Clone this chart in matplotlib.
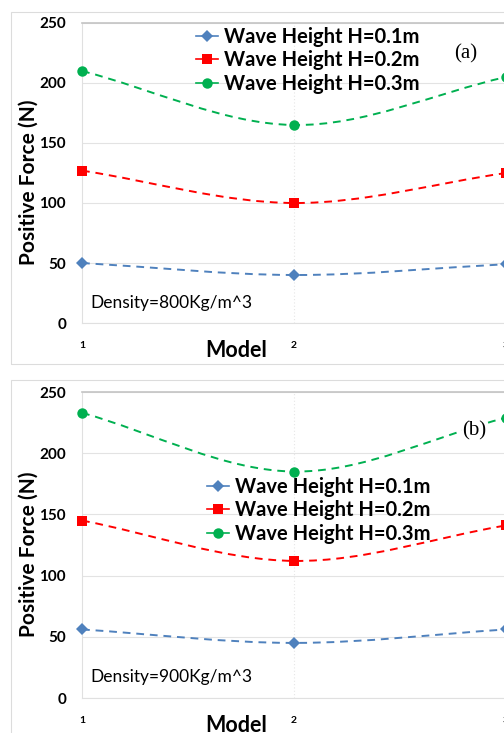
import matplotlib
matplotlib.use("Agg")
import matplotlib.pyplot as plt
from matplotlib.path import Path
from matplotlib.patches import PathPatch, Rectangle
from matplotlib.lines import Line2D

# ─────────────────────────────────────────────
# DATA
# ─────────────────────────────────────────────
models = [1, 2, 3]
series_labels = ["Wave Height H=0.1m", "Wave Height H=0.2m", "Wave Height H=0.3m"]

force_800 = {
    "H=0.1m": [50, 40, 49],
    "H=0.2m": [127, 100, 125],
    "H=0.3m": [210, 165, 205],
}
force_900 = {
    "H=0.1m": [56, 45, 56],
    "H=0.2m": [145, 112, 141],
    "H=0.3m": [233, 185, 229],
}
y_ticks = [0, 50, 100, 150, 200, 250]

colors = ["#4F81BD", "#FF0000", "#00B050"]
markers = ["D", "s", "o"]
msizes = [6.5, 7.5, 7.5]

W, H = 504, 733
plt.rcParams["font.family"] = ["Lato", "DejaVu Sans"]


def fx(px):
    return px / W


def fy(py):
    return 1 - py / H


# smooth line like Excel's "smoothed line" option
def smooth_path(xs, ys):
    n = len(xs)
    mx, my = [], []
    for i in range(n):
        if i == 0:
            mx.append(xs[1] - xs[0]); my.append(ys[1] - ys[0])
        elif i == n - 1:
            mx.append(xs[-1] - xs[-2]); my.append(ys[-1] - ys[-2])
        else:
            mx.append((xs[i + 1] - xs[i - 1]) / 2); my.append((ys[i + 1] - ys[i - 1]) / 2)
    verts = [(xs[0], ys[0])]
    codes = [Path.MOVETO]
    for i in range(n - 1):
        verts += [(xs[i] + mx[i] / 3, ys[i] + my[i] / 3),
                  (xs[i + 1] - mx[i + 1] / 3, ys[i + 1] - my[i + 1] / 3),
                  (xs[i + 1], ys[i + 1])]
        codes += [Path.CURVE4] * 3
    return Path(verts, codes)


def draw_panel(fig, data, top_px, bot_px, density_txt, tag, tag_xy, tag_box, leg_anchor):
    ax = fig.add_axes([fx(82), fy(bot_px), fx(504 - 82) + 0.004, (bot_px - top_px) / H])
    for i, key in enumerate(data):
        vals = data[key]
        ax.add_patch(PathPatch(smooth_path(models, vals), fill=False, edgecolor=colors[i],
                               lw=1.4, ls=(0, (4, 3)), zorder=3))
        ax.plot(models, vals, ls="none", marker=markers[i], ms=msizes[i], color=colors[i],
                markeredgewidth=0, zorder=4, clip_on=False)

    ax.set_xlim(1, 3)
    ax.set_ylim(0, 250)
    ax.set_yticks(y_ticks)
    ax.set_xticks(models)
    ax.tick_params(length=0)
    ax.tick_params(axis="y", labelsize=11, pad=11.5)
    ax.tick_params(axis="x", labelsize=7.5, pad=13)
    for lbl in ax.get_xticklabels() + ax.get_yticklabels():
        lbl.set_fontweight("bold")

    ax.grid(axis="y", color="#E3E3E3", lw=0.8)
    ax.axvline(2, color="#E6E6E6", lw=0.8, ls=(0, (1, 2)), zorder=0)
    for s in ["left", "bottom"]:
        ax.spines[s].set_color("#E0E0E0")
    ax.spines["right"].set_visible(False)
    ax.spines["top"].set_color("#C4C4C4")
    ax.spines["top"].set_linewidth(1.2)

    ax.text((235 - 82) / 422, -0.09, "Model", transform=ax.transAxes,
            ha="center", va="center", fontsize=15.5, fontweight="bold")
    ax.text(-0.126, 0.47, "Positive Force (N)", transform=ax.transAxes, rotation=90,
            ha="center", va="center", fontsize=15, fontweight="bold")
    ax.text(1.04, 17, density_txt, fontsize=12.5, va="center", ha="left", zorder=5)

    tx, ty = tag_xy
    bbox = dict(facecolor="white", edgecolor="none", pad=0.5) if tag_box else None
    ax.text(tx, ty, tag, fontsize=15, family="Liberation Serif", ha="center", va="center",
            bbox=bbox, zorder=5)

    handles = [Line2D([], [], color=colors[i], marker=markers[i], ms=msizes[i],
                      markeredgewidth=0, lw=1.2) for i in range(3)]
    leg = ax.legend(handles, series_labels, loc="upper left", bbox_to_anchor=leg_anchor,
                    frameon=False, fontsize=14.5, handlelength=1.1, handletextpad=0.3,
                    labelspacing=0.18, borderaxespad=0)
    for t in leg.get_texts():
        t.set_fontweight("bold")
    return ax


fig = plt.figure(figsize=(W / 100, H / 100), dpi=100)

# outer frames
fig.patches.append(Rectangle((fx(11), fy(364)), 1.0, (364 - 12) / H, transform=fig.transFigure,
                             fill=False, edgecolor="#DCDCDC", lw=0.8))
fig.patches.append(Rectangle((fx(11), fy(740)), 1.0, (740 - 380) / H, transform=fig.transFigure,
                             fill=False, edgecolor="#DCDCDC", lw=0.8))

draw_panel(fig, force_800, 23, 323, "Density=800Kg/m^3", "(a)", (2.81, 224), False,
           (0.25, 1.015))
draw_panel(fig, force_900, 392, 698, "Density=900Kg/m^3", "(b)", (2.85, 218), True,
           (0.275, 0.75))

fig.savefig("out.png", dpi=100)
